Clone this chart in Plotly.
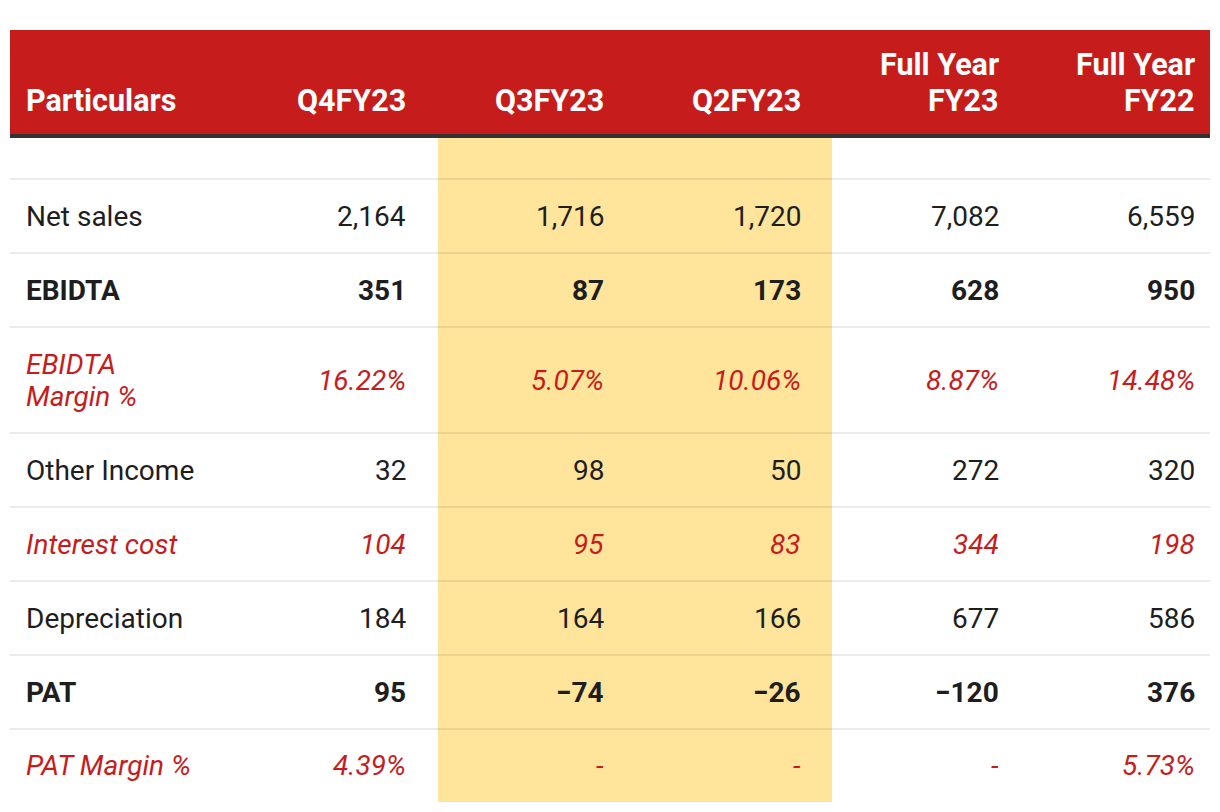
import plotly.graph_objects as go

# ---- data ----
columns = ["Particulars", "Q4FY23", "Q3FY23", "Q2FY23", "Full Year<br>FY23", "Full Year<br>FY22"]
particulars = ["Net sales", "EBIDTA", "EBIDTA<br>Margin %", "Other Income",
               "Interest cost", "Depreciation", "PAT", "PAT Margin %"]
q4fy23 = ["2,164", "351", "16.22%", "32", "104", "184", "95", "4.39%"]
q3fy23 = ["1,716", "87", "5.07%", "98", "95", "164", "−74", "-"]
q2fy23 = ["1,720", "173", "10.06%", "50", "83", "166", "−26", "-"]
fy23 = ["7,082", "628", "8.87%", "272", "344", "677", "−120", "-"]
fy22 = ["6,559", "950", "14.48%", "320", "198", "586", "376", "5.73%"]
row_style = ["normal", "bold", "red", "normal", "red", "normal", "bold", "red"]

value_cols = [q4fy23, q3fy23, q2fy23, fy23, fy22]

# ---- layout geometry (pixels) ----
W, H = 1220, 812
tbl_left, tbl_right = 10, 1210
head_top, head_bot = 30, 134
border_bot = 138
spacer_h = 41
row_heights = [74, 74, 106, 74, 74, 74, 74, 73]
label_x = 27
col_right_x = [405, 603, 800, 998, 1194]
hl_x0, hl_x1 = 438, 832
PAD = 3  # annotation inner padding compensation

RED = "#C71C1C"
TEXT = "#1E1E1E"
YELLOW = "#FFE49C"
FONT = "Roboto"
FS = 28
HFS = 30.5
BODY_LINE = 32
HEAD_LINE = 36
HEAD_LAST_CENTER = 100

fig = go.Figure()
shapes = []
annotations = []

# header band
shapes.append(dict(type="rect", x0=tbl_left, x1=tbl_right, y0=head_top, y1=head_bot,
                   fillcolor=RED, line=dict(width=0), layer="below"))
shapes.append(dict(type="rect", x0=tbl_left, x1=tbl_right, y0=head_bot, y1=border_bot,
                   fillcolor="#333333", line=dict(width=0), layer="below"))

# row positions
y_edges = [border_bot + spacer_h]
for h in row_heights:
    y_edges.append(y_edges[-1] + h)

# highlight band
shapes.append(dict(type="rect", x0=hl_x0, x1=hl_x1, y0=border_bot, y1=y_edges[-1],
                   fillcolor=YELLOW, line=dict(width=0), layer="below"))

# separators
for y in y_edges[:-1]:
    shapes.append(dict(type="line", x0=tbl_left, x1=tbl_right, y0=y, y1=y,
                       line=dict(color="rgba(0,0,0,0.08)", width=2), layer="below"))


def add_text(x, y, text, anchor, size, color):
    xx = x - PAD if anchor == "left" else x + PAD
    annotations.append(dict(x=xx, y=y, xref="x", yref="y", text=text, showarrow=False,
                            xanchor=anchor, yanchor="middle", align=anchor,
                            font=dict(family=FONT, size=size, color=color)))


# header labels (bottom aligned)
for i, c in enumerate(columns):
    if i == 0:
        x, anchor = label_x, "left"
    else:
        x, anchor = col_right_x[i - 1], "right"
    lines = c.split("<br>")
    n = len(lines)
    for k, ln in enumerate(lines):
        y = HEAD_LAST_CENTER - (n - 1 - k) * HEAD_LINE
        add_text(x, y, f"<b>{ln}</b>", anchor, HFS, "white")


def styled(t, style):
    if style == "bold":
        return f"<b>{t}</b>"
    if style == "red":
        return f"<i>{t}</i>"
    return t


for r, label in enumerate(particulars):
    yc = (y_edges[r] + y_edges[r + 1]) / 2
    style = row_style[r]
    color = RED if style == "red" else TEXT
    lines = label.split("<br>")
    n = len(lines)
    for k, ln in enumerate(lines):
        y = yc + (k - (n - 1) / 2) * BODY_LINE
        add_text(label_x, y, styled(ln, style), "left", FS, color)
    for ci, col in enumerate(value_cols):
        add_text(col_right_x[ci], yc, styled(col[r], style), "right", FS, color)

fig.update_layout(
    width=W, height=H,
    margin=dict(l=0, r=0, t=0, b=0),
    paper_bgcolor="white", plot_bgcolor="white",
    xaxis=dict(range=[0, W], visible=False, fixedrange=True),
    yaxis=dict(range=[H, 0], visible=False, fixedrange=True),
    shapes=shapes, annotations=annotations, showlegend=False,
)

fig.write_html("out.html", config={"displayModeBar": False},
               post_script="document.body.style.margin='0';document.body.style.overflow='hidden';")
